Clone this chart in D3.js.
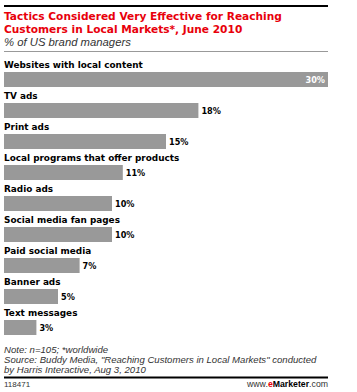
<!DOCTYPE html>
<html>
<head>
<meta charset="utf-8">
<style>
  body { margin: 0; background: #fff; }
  svg { display: block; font-family: "DejaVu Sans", Verdana, sans-serif; }
</style>
</head>
<body>
<div id="chart"></div>
<script src="https://cdn.jsdelivr.net/npm/d3@7/dist/d3.min.js"></script>
<script>
// data
var tactics = ["Websites with local content", "TV ads", "Print ads", "Local programs that offer products",
  "Radio ads", "Social media fan pages", "Paid social media", "Banner ads", "Text messages"];
var shares = [30, 18, 15, 11, 10, 10, 7, 5, 3];
var titleLines = ["Tactics Considered Very Effective for Reaching", "Customers in Local Markets*, June 2010"];
var subtitle = "% of US brand managers";
var notes = ["Note: n=105; *worldwide",
  "Source: Buddy Media, \"Reaching Customers in Local Markets\" conducted",
  "by Harris Interactive, Aug 3, 2010"];

var W = 357, H = 392, left = 4, right = 328;

var svg = d3.select("#chart").append("svg")
  .attr("width", W).attr("height", H);

// scale a text group's font so one sample text hits the wanted width
function fit(sel, sample, width) {
  var size = +sample.attr("font-size");
  var w = sample.node().getComputedTextLength();
  sel.attr("font-size", size * width / w);
}

// top rule + title
svg.append("rect").attr("x", left).attr("y", 5).attr("width", right - left).attr("height", 2).attr("fill", "#000");
var title = svg.selectAll(".title").data(titleLines).enter().append("text")
  .attr("class", "title")
  .attr("x", left).attr("y", function(d, i) { return 19.5 + i * 13; })
  .attr("fill", "#e8000b").attr("font-weight", "bold").attr("font-size", 10.5)
  .text(function(d) { return d; });
fit(title, title.filter(function(d, i) { return i == 0; }), 278);

var sub = svg.append("text").attr("x", left).attr("y", 45.5)
  .attr("font-family", "Arial, 'Liberation Sans', sans-serif")
  .attr("font-style", "italic").attr("font-size", 11).attr("fill", "#333")
  .text(subtitle);
fit(sub, sub, 127);
svg.append("rect").attr("x", left).attr("y", 51).attr("width", right - left).attr("height", 1).attr("fill", "#999");

// scales
var x = d3.scaleLinear().domain([0, 30]).range([left, right]);
var row = d3.scaleBand().domain(tactics).range([59, 59 + 31 * tactics.length]);

var rows = svg.selectAll(".row").data(tactics).enter().append("g")
  .attr("class", "row")
  .attr("transform", function(d) { return "translate(0," + row(d) + ")"; });

var labels = rows.append("text")
  .attr("x", left).attr("y", 9.3)
  .attr("font-weight", "bold").attr("font-size", 9.5).attr("fill", "#000")
  .text(function(d) { return d; });
fit(labels, labels.filter(function(d, i) { return i == 0; }), 139);

rows.append("rect")
  .attr("x", x(0)).attr("y", 13)
  .attr("width", function(d, i) { return x(shares[i]) - x(0); })
  .attr("height", 15)
  .attr("fill", "#999");

var vals = rows.append("text")
  .attr("x", function(d, i) { return i == 0 ? x(shares[i]) - 3 : x(shares[i]) + 3; })
  .attr("y", 23.5)
  .attr("text-anchor", function(d, i) { return i == 0 ? "end" : "start"; })
  .attr("font-weight", "bold").attr("font-size", 8.5)
  .attr("fill", function(d, i) { return i == 0 ? "#fff" : "#000"; })
  .text(function(d, i) { return shares[i] + "%"; });
fit(vals, vals.filter(function(d, i) { return i == 1; }), 19.5);

// notes
var noteText = svg.selectAll(".note").data(notes).enter().append("text")
  .attr("class", "note")
  .attr("x", left).attr("y", function(d, i) { return 352.5 + i * 10.3; })
  .attr("font-family", "Arial, 'Liberation Sans', sans-serif")
  .attr("font-style", "italic").attr("font-size", 9.5).attr("fill", "#333")
  .text(function(d) { return d; });
fit(noteText, noteText.filter(function(d, i) { return i == 1; }), 313);

// bottom rule + footer
svg.append("rect").attr("x", left).attr("y", 376.5).attr("width", right - left).attr("height", 2).attr("fill", "#000");
svg.append("text").attr("x", left).attr("y", 387)
  .attr("font-family", "Arial, 'Liberation Sans', sans-serif")
  .attr("font-size", 8).attr("fill", "#333").text("118471");
var brand = svg.append("text").attr("x", right).attr("y", 387)
  .attr("font-family", "Arial, 'Liberation Sans', sans-serif")
  .attr("text-anchor", "end").attr("font-size", 8.5).attr("fill", "#333");
brand.append("tspan").text("www.");
brand.append("tspan").attr("fill", "#e8000b").attr("font-weight", "bold").text("e");
brand.append("tspan").attr("font-weight", "bold").attr("fill", "#000").text("Marketer");
brand.append("tspan").text(".com");
fit(brand, brand, 81);
</script>
</body>
</html>
